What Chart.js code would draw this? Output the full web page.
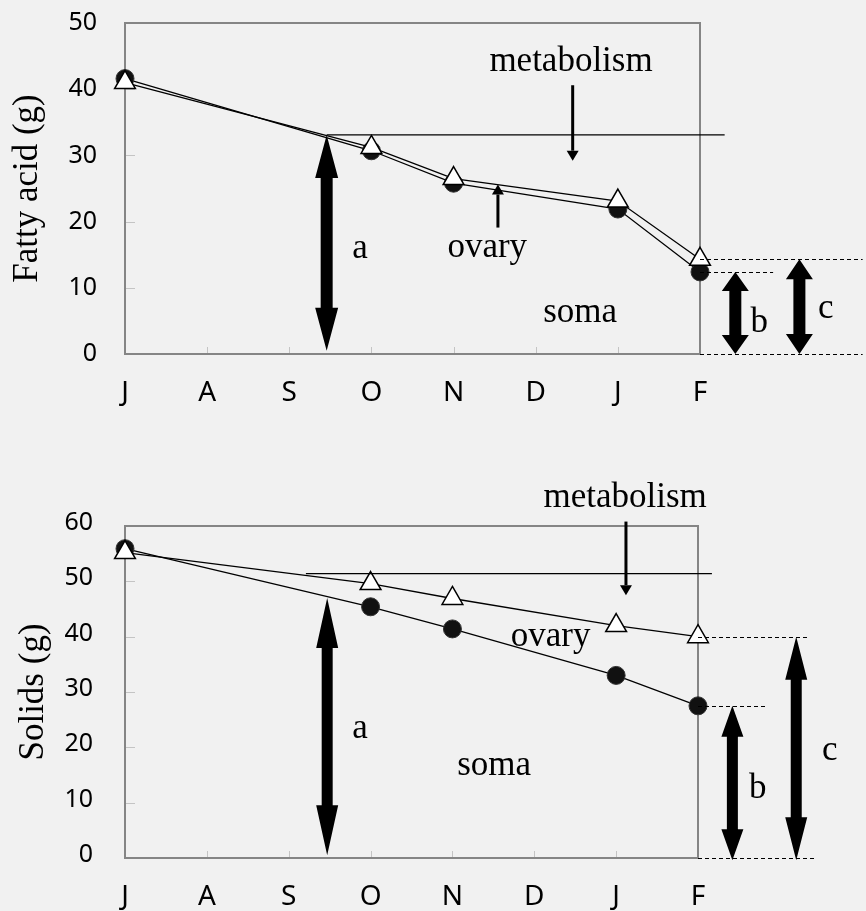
<!DOCTYPE html>
<html>
<head>
<meta charset="utf-8">
<script src="https://cdn.jsdelivr.net/npm/chart.js@4/dist/chart.umd.min.js"></script>
<style>
  html, body { margin: 0; padding: 0; background: #f1f1f1; }
  .panel { position: absolute; left: 0; width: 866px; }
  #topPanel { top: 0; height: 440px; }
  #bottomPanel { top: 440px; height: 471px; }
</style>
</head>
<body>
<div class="panel" id="topPanel"><canvas id="fattyChart"></canvas></div>
<div class="panel" id="bottomPanel"><canvas id="solidsChart"></canvas></div>
<script>
// month axis, July to February
const months = ['J', 'A', 'S', 'O', 'N', 'D', 'J', 'F'];
const sampleMonths = [0, 3, 4, 6, 7];

// fatty acid (g): soma only (filled circles), soma + ovary (open triangles)
const fattySoma = [41.6, 30.7, 25.8, 21.9, 12.4];
const fattyTotal = [41.0, 31.2, 26.5, 23.1, 14.3];

// solids (g)
const solidsSoma = [55.9, 45.4, 41.4, 33.0, 27.5];
const solidsTotal = [55.2, 49.6, 46.9, 42.0, 40.0];

// annotation layout, in axis units
const fattyMetabolism = [2.455, 7.30, 33.1];          // x from, x to, level
const fattyArrowA = [2.455, 33.1, 0.5];
const fattyThinArrows = [[5.45, 40.6, 29.2], [4.54, 19.1, 25.6]];
const fattyDashEnds = [8.98, 7.89, 8.98];              // total, soma, zero
const fattyArrowX = [7.43, 8.21];                      // b, c
const fattyLabels = [
  ['metabolism', 5.43, 42.8], ['ovary', 4.41, 14.65], ['soma', 5.54, 4.83],
  ['a', 2.86, 14.5], ['b', 7.72, 3.3], ['c', 8.53, 5.4]
];

const solidsMetabolism = [2.21, 7.17, 51.4];
const solidsArrowA = [2.47, 47.0, 0.5];
const solidsThinArrows = [[6.12, 60.8, 47.5]];
const solidsDashEnds = [8.35, 7.82, 8.45];
const solidsArrowX = [7.42, 8.2];
const solidsLabels = [
  ['metabolism', 6.11, 63.4], ['ovary', 5.20, 38.3], ['soma', 4.51, 15.0],
  ['a', 2.87, 21.7], ['b', 7.73, 10.8], ['c', 8.61, 17.7]
];

function doubleArrow(ctx, x, y1, y2, shaft, head, len) {
  const s = shaft / 2, h = head / 2;
  ctx.beginPath();
  ctx.moveTo(x, y1);
  ctx.lineTo(x + h, y1 + len);
  ctx.lineTo(x + s, y1 + len);
  ctx.lineTo(x + s, y2 - len);
  ctx.lineTo(x + h, y2 - len);
  ctx.lineTo(x, y2);
  ctx.lineTo(x - h, y2 - len);
  ctx.lineTo(x - s, y2 - len);
  ctx.lineTo(x - s, y1 + len);
  ctx.lineTo(x - h, y1 + len);
  ctx.closePath();
  ctx.fill();
}

function thinArrow(ctx, x, yFrom, yTip) {
  const dir = Math.sign(yTip - yFrom);
  const len = 10, h = 6;
  ctx.lineWidth = 3;
  ctx.beginPath();
  ctx.moveTo(x, yFrom);
  ctx.lineTo(x, yTip - dir * len);
  ctx.stroke();
  ctx.beginPath();
  ctx.moveTo(x, yTip);
  ctx.lineTo(x + h, yTip - dir * len);
  ctx.lineTo(x - h, yTip - dir * len);
  ctx.closePath();
  ctx.fill();
}

// frame, inner tick marks and all the arrows / labels
const overlay = {
  id: 'overlay',
  beforeDatasetsDraw(chart) {
    const { ctx, chartArea: a, scales } = chart;
    ctx.save();
    ctx.strokeStyle = '#c4c4c4';
    ctx.lineWidth = 1;
    scales.y.ticks.forEach(t => {
      if (t.value <= scales.y.min || t.value >= scales.y.max) return;
      const y = Math.round(scales.y.getPixelForValue(t.value)) + 0.5;
      ctx.beginPath(); ctx.moveTo(a.left, y); ctx.lineTo(a.left + 10, y); ctx.stroke();
    });
    scales.x.ticks.forEach(t => {
      if (t.value <= scales.x.min || t.value >= scales.x.max) return;
      const x = Math.round(scales.x.getPixelForValue(t.value)) + 0.5;
      ctx.beginPath(); ctx.moveTo(x, a.bottom); ctx.lineTo(x, a.bottom - 7); ctx.stroke();
    });
    ctx.strokeStyle = '#858585';
    ctx.lineWidth = 2;
    ctx.strokeRect(a.left, a.top, a.right - a.left, a.bottom - a.top);
    ctx.restore();
  },
  afterDatasetsDraw(chart, args, o) {
    const { ctx, scales } = chart;
    const px = v => scales.x.getPixelForValue(v);
    const py = v => scales.y.getPixelForValue(v);
    const lastSoma = o.soma[o.soma.length - 1];
    const lastTotal = o.total[o.total.length - 1];
    ctx.save();
    ctx.strokeStyle = '#000';
    ctx.fillStyle = '#000';

    // metabolism level
    ctx.lineWidth = 1.3;
    ctx.beginPath();
    ctx.moveTo(px(o.metabolism[0]), py(o.metabolism[2]));
    ctx.lineTo(px(o.metabolism[1]), py(o.metabolism[2]));
    ctx.stroke();

    // dashed guides out of the last sample
    ctx.lineWidth = 1.2;
    ctx.setLineDash([4, 3]);
    [[lastTotal, o.dashEnds[0]], [lastSoma, o.dashEnds[1]], [0, o.dashEnds[2]]].forEach(([v, end]) => {
      const y = Math.round(py(v)) + 0.5;
      ctx.beginPath(); ctx.moveTo(px(7), y); ctx.lineTo(px(end), y); ctx.stroke();
    });
    ctx.setLineDash([]);

    // a, b, c
    const big = o.bigArrow;
    doubleArrow(ctx, px(o.arrowA[0]), py(o.arrowA[1]), py(o.arrowA[2]), big.shaft, big.head, big.lenA);
    doubleArrow(ctx, px(o.arrowX[0]), py(lastSoma), py(big.floor), big.shaft, big.headB, big.lenB);
    doubleArrow(ctx, px(o.arrowX[1]), py(lastTotal), py(big.floor), big.shaft, big.headB, big.lenC);

    o.thin.forEach(([x, from, tip]) => thinArrow(ctx, px(x), py(from), py(tip)));

    ctx.font = '35px "Liberation Serif", "Times New Roman", serif';
    ctx.textAlign = 'center';
    ctx.textBaseline = 'alphabetic';
    o.labels.forEach(([txt, x, y]) => ctx.fillText(txt, px(x), py(y)));
    ctx.restore();
  }
};

function makeChart(id, soma, total, yMax, title, extra) {
  const toPoints = vals => vals.map((v, i) => ({ x: sampleMonths[i], y: v }));
  return new Chart(document.getElementById(id), {
    type: 'line',
    data: {
      datasets: [
        {
          label: 'soma + ovary',
          data: toPoints(total),
          borderColor: '#000',
          borderWidth: 1.3,
          pointStyle: 'triangle',
          pointRadius: 12,
          pointBackgroundColor: '#fff',
          pointBorderColor: '#000',
          pointBorderWidth: 1.5,
          clip: false
        },
        {
          label: 'soma',
          data: toPoints(soma),
          borderColor: '#000',
          borderWidth: 1.3,
          pointStyle: 'circle',
          pointRadius: 9,
          pointBackgroundColor: '#111',
          pointBorderColor: '#333',
          pointBorderWidth: 1,
          clip: false
        }
      ]
    },
    options: {
      responsive: true,
      maintainAspectRatio: false,
      animation: false,
      devicePixelRatio: 1,
      layout: { autoPadding: false, padding: extra.padding },
      plugins: {
        legend: { display: false },
        tooltip: { enabled: false },
        overlay: Object.assign({ soma, total }, extra.notes)
      },
      scales: {
        x: {
          type: 'linear',
          min: 0,
          max: 7,
          grid: { display: false, drawTicks: false },
          border: { display: false },
          ticks: {
            stepSize: 1,
            autoSkip: false,
            maxRotation: 0,
            padding: 22,
            color: '#000',
            font: { family: 'Noto Sans', size: 28 },
            callback: v => months[v]
          },
          afterFit: s => {
            s.height = extra.xHeight;
            s.paddingLeft = 0;
            s.paddingRight = 0;
          }
        },
        y: {
          min: 0,
          max: yMax,
          grid: { display: false, drawTicks: false },
          border: { display: false },
          ticks: {
            stepSize: 10,
            padding: extra.yPad,
            labelOffset: extra.yLabelOffset,
            color: '#000',
            font: { family: 'Noto Sans', size: 25 }
          },
          title: {
            display: true,
            text: title,
            color: '#000',
            font: { family: 'Liberation Serif', size: 35 },
            padding: { top: extra.titlePad, bottom: 0 }
          },
          afterFit: s => {
            s.width = 125;
            s.paddingTop = 0;
            s.paddingBottom = 0;
          }
        }
      }
    },
    plugins: [overlay]
  });
}

makeChart('fattyChart', fattySoma, fattyTotal, 50, 'Fatty acid (g)', {
  padding: { top: 23, right: 166, bottom: 0, left: 0 },
  xHeight: 86,
  yPad: 28,
  yLabelOffset: 0,
  titlePad: 7,
  notes: {
    metabolism: fattyMetabolism,
    arrowA: fattyArrowA,
    arrowX: fattyArrowX,
    thin: fattyThinArrows,
    dashEnds: fattyDashEnds,
    labels: fattyLabels,
    bigArrow: { shaft: 12, head: 23, headB: 27, lenA: 43, lenB: 19, lenC: 20, floor: 0 }
  }
});

makeChart('solidsChart', solidsSoma, solidsTotal, 60, 'Solids (g)', {
  padding: { top: 86, right: 168, bottom: 0, left: 0 },
  xHeight: 53,
  yPad: 32,
  yLabelOffset: -3,
  titlePad: 13,
  notes: {
    metabolism: solidsMetabolism,
    arrowA: solidsArrowA,
    arrowX: solidsArrowX,
    thin: solidsThinArrows,
    dashEnds: solidsDashEnds,
    labels: solidsLabels,
    bigArrow: { shaft: 11, head: 22, headB: 22, lenA: 50, lenB: 31, lenC: 43, floor: -0.4 }
  }
});
</script>
</body>
</html>
